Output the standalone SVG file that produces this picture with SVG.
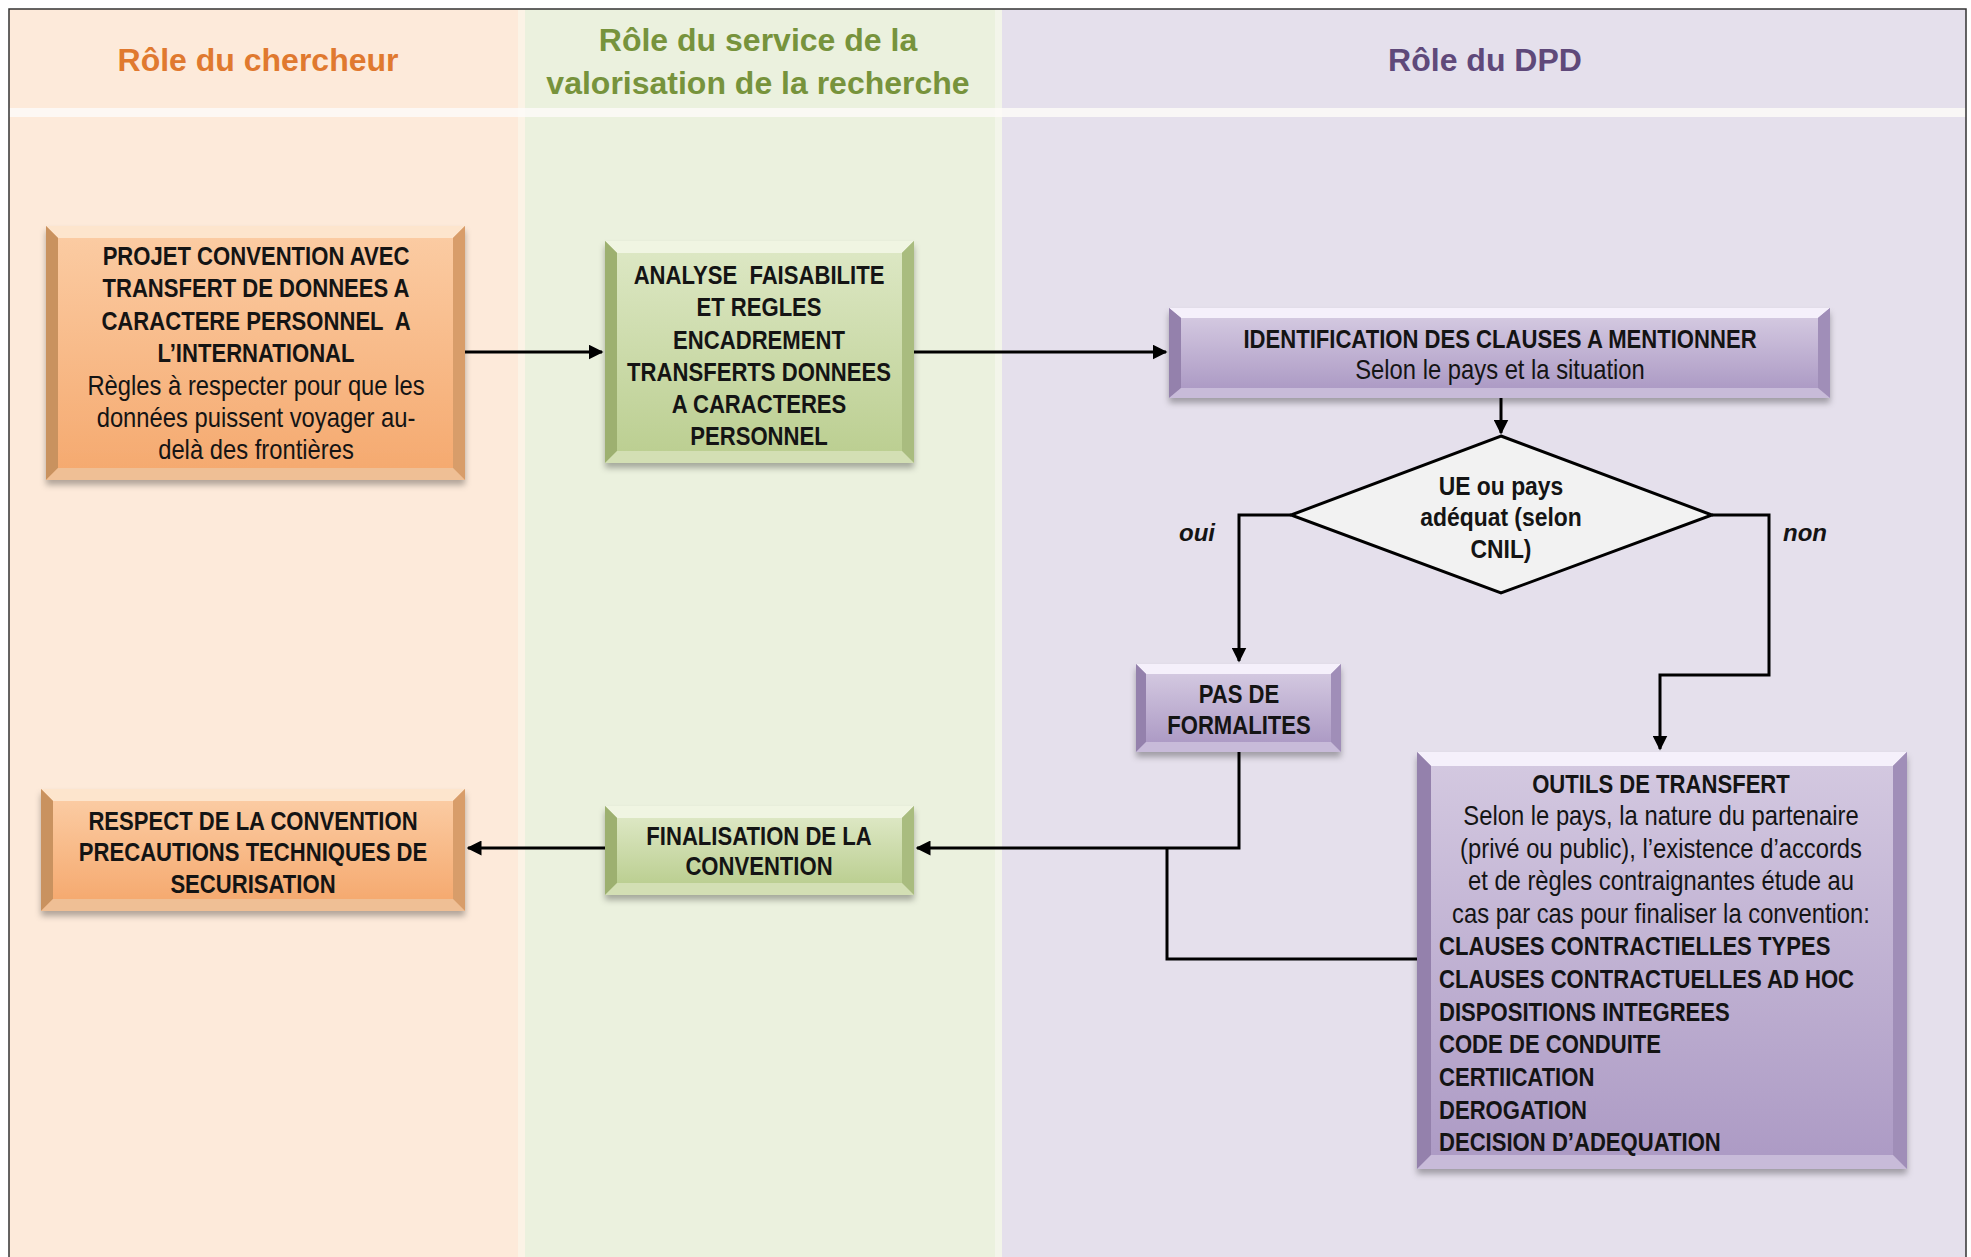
<svg xmlns="http://www.w3.org/2000/svg" width="1971" height="1257" viewBox="0 0 1971 1257">
<style>
text{font-family:"Liberation Sans",Arial,sans-serif;fill:#141414;}
.hd{font-size:32px;font-weight:bold;text-anchor:middle;}
.b{font-size:26px;font-weight:bold;text-anchor:middle;}
.r{font-size:28px;text-anchor:middle;}
.l{font-size:26px;font-weight:bold;text-anchor:start;}
.lbl{font-size:24px;font-weight:bold;font-style:italic;text-anchor:middle;}
.conn{fill:none;stroke:#000;stroke-width:3;}
</style>
<defs>
<marker id="ah" viewBox="0 0 10 10" refX="9" refY="5" markerWidth="5" markerHeight="5" orient="auto" markerUnits="strokeWidth">
<path d="M0,0 L10,5 L0,10 z" fill="#000"/>
</marker>
<filter id="sh" x="-10%" y="-10%" width="120%" height="130%">
<feDropShadow dx="0" dy="5" stdDeviation="3" flood-color="#000" flood-opacity="0.3"/>
</filter>
<linearGradient id="gO" x1="0" y1="0" x2="0" y2="1"><stop offset="0" stop-color="#FBCBA2"/><stop offset="1" stop-color="#F5AA70"/></linearGradient>
<linearGradient id="gG" x1="0" y1="0" x2="0" y2="1"><stop offset="0" stop-color="#DCE7C3"/><stop offset="1" stop-color="#BCCF92"/></linearGradient>
<linearGradient id="gP" x1="0" y1="0" x2="0" y2="1"><stop offset="0" stop-color="#D3C8E0"/><stop offset="1" stop-color="#AD9BC5"/></linearGradient>
</defs>

<!-- lanes -->
<g id="lanes">
<rect x="9" y="9" width="509" height="1248" fill="#FDEADA"/>
<rect x="518" y="9" width="7" height="1248" fill="#FBF3E6"/>
<rect x="525" y="9" width="470" height="1248" fill="#EBF1DE"/>
<rect x="995" y="9" width="7" height="1248" fill="#F3F5EA"/>
<rect x="1002" y="9" width="964" height="1248" fill="#E5E0EC"/>
<rect x="9" y="108" width="1957" height="9" fill="#FDFAF8" opacity="0.85"/>
<path d="M9,1257 V9 H1966 V1257" fill="none" stroke="#333" stroke-width="1.5"/>
<text class="hd" x="258" y="71" style="fill:#E0792F">Rôle du chercheur</text>
<text class="hd" x="758" y="51" style="fill:#77933C">Rôle du service de la</text>
<text class="hd" x="758" y="94" style="fill:#77933C">valorisation de la recherche</text>
<text class="hd" x="1485" y="71" style="fill:#5F497A">Rôle du DPD</text>
</g>

<!-- connectors -->
<g id="connectors">
<path class="conn" d="M465,352 H602" marker-end="url(#ah)"/>
<path class="conn" d="M914,352 H1166" marker-end="url(#ah)"/>
<path class="conn" d="M1501,398 V433" marker-end="url(#ah)"/>
<path class="conn" d="M1291,515 H1239 V661" marker-end="url(#ah)"/>
<path class="conn" d="M1712,515 H1769 V675 H1660 V749" marker-end="url(#ah)"/>
<path class="conn" d="M1239,752 V848 H917" marker-end="url(#ah)"/>
<path class="conn" d="M1417,959 H1167 V848"/>
<path class="conn" d="M605,848 H468" marker-end="url(#ah)"/>
<text class="lbl" x="1197" y="541">oui</text>
<text class="lbl" x="1805" y="541">non</text>
</g>

<!-- node 1 -->
<g id="n-projet">
<g filter="url(#sh)">
<rect x="46" y="226" width="419" height="254" fill="#E2A879"/>
<polygon points="46,226 465,226 453,238 58,238" fill="#FDE5CD"/>
<polygon points="46,226 58,238 58,468 46,480" fill="#C9925F"/>
<polygon points="465,226 465,480 453,468 453,238" fill="#D89D6B"/>
<polygon points="46,480 58,468 453,468 465,480" fill="#EFBF95"/>
<rect x="58" y="238" width="395" height="230" fill="url(#gO)"/>
</g>
<g transform="translate(256,0) scale(0.85,1)">
<text class="b" x="0" y="265">PROJET CONVENTION AVEC</text>
<text class="b" x="0" y="297">TRANSFERT DE DONNEES A</text>
<text class="b" x="0" y="330" xml:space="preserve">CARACTERE PERSONNEL  A</text>
<text class="b" x="0" y="362">L’INTERNATIONAL</text>
<text class="r" x="0" y="395">Règles à respecter pour que les</text>
<text class="r" x="0" y="427">données puissent voyager au-</text>
<text class="r" x="0" y="459">delà des frontières</text>
</g>
</g>

<!-- node 2 -->
<g id="n-analyse">
<g filter="url(#sh)">
<rect x="605" y="241" width="309" height="222" fill="#ABBF82"/>
<polygon points="605,241 914,241 902,253 617,253" fill="#F0F5E2"/>
<polygon points="605,241 617,253 617,451 605,463" fill="#9DB06F"/>
<polygon points="914,241 914,463 902,451 902,253" fill="#A9BC7F"/>
<polygon points="605,463 617,451 902,451 914,463" fill="#D3DFB4"/>
<rect x="617" y="253" width="285" height="198" fill="url(#gG)"/>
</g>
<g transform="translate(759,0) scale(0.85,1)">
<text class="b" x="0" y="284" xml:space="preserve">ANALYSE  FAISABILITE</text>
<text class="b" x="0" y="316">ET REGLES</text>
<text class="b" x="0" y="349">ENCADREMENT</text>
<text class="b" x="0" y="381">TRANSFERTS DONNEES</text>
<text class="b" x="0" y="413">A CARACTERES</text>
<text class="b" x="0" y="445">PERSONNEL</text>
</g>
</g>

<!-- node 3 -->
<g id="n-identification">
<g filter="url(#sh)">
<rect x="1169" y="308" width="661" height="90" fill="#A290BA"/>
<polygon points="1169,308 1830,308 1818,318 1181,318" fill="#F5F0FB"/>
<polygon points="1169,308 1181,318 1181,388 1169,398" fill="#9481AC"/>
<polygon points="1830,308 1830,398 1818,388 1818,318" fill="#A08EB8"/>
<polygon points="1169,398 1181,388 1818,388 1830,398" fill="#C8BBD9"/>
<rect x="1181" y="318" width="637" height="70" fill="url(#gP)"/>
</g>
<g transform="translate(1500,0) scale(0.85,1)">
<text class="b" x="0" y="348">IDENTIFICATION DES CLAUSES A MENTIONNER</text>
<text class="r" x="0" y="379">Selon le pays et la situation</text>
</g>
</g>

<!-- decision -->
<g id="n-decision">
<polygon points="1501,436 1712,515 1501,593 1291,515" fill="#F2F2F2" stroke="#000" stroke-width="3"/>
<g transform="translate(1501,0) scale(0.88,1)">
<text class="b" x="0" y="495">UE ou pays</text>
<text class="b" x="0" y="526">adéquat (selon</text>
<text class="b" x="0" y="558">CNIL)</text>
</g>
</g>

<!-- node PAS -->
<g id="n-pas">
<g filter="url(#sh)">
<rect x="1136" y="664" width="205" height="88" fill="#A290BA"/>
<polygon points="1136,664 1341,664 1331,674 1146,674" fill="#F5F0FB"/>
<polygon points="1136,664 1146,674 1146,742 1136,752" fill="#9481AC"/>
<polygon points="1341,664 1341,752 1331,742 1331,674" fill="#A08EB8"/>
<polygon points="1136,752 1146,742 1331,742 1341,752" fill="#C8BBD9"/>
<rect x="1146" y="674" width="185" height="68" fill="url(#gP)"/>
</g>
<g transform="translate(1239,0) scale(0.85,1)">
<text class="b" x="0" y="703">PAS DE</text>
<text class="b" x="0" y="734">FORMALITES</text>
</g>
</g>

<!-- node OUTILS -->
<g id="n-outils">
<g filter="url(#sh)">
<rect x="1417" y="752" width="490" height="417" fill="#A290BA"/>
<polygon points="1417,752 1907,752 1893,766 1431,766" fill="#F5F0FB"/>
<polygon points="1417,752 1431,766 1431,1155 1417,1169" fill="#9481AC"/>
<polygon points="1907,752 1907,1169 1893,1155 1893,766" fill="#A08EB8"/>
<polygon points="1417,1169 1431,1155 1893,1155 1907,1169" fill="#C8BBD9"/>
<rect x="1431" y="766" width="462" height="389" fill="url(#gP)"/>
</g>
<g transform="translate(1661,0) scale(0.85,1)">
<text class="b" x="0" y="793">OUTILS DE TRANSFERT</text>
<text class="r" x="0" y="825">Selon le pays, la nature du partenaire</text>
<text class="r" x="0" y="858">(privé ou public), l’existence d’accords</text>
<text class="r" x="0" y="890">et de règles contraignantes étude au</text>
<text class="r" x="0" y="923">cas par cas pour finaliser la convention:</text>
</g>
<g transform="translate(1439,0) scale(0.85,1)">
<text class="l" x="0" y="955">CLAUSES CONTRACTIELLES TYPES</text>
<text class="l" x="0" y="988">CLAUSES CONTRACTUELLES AD HOC</text>
<text class="l" x="0" y="1021">DISPOSITIONS INTEGREES</text>
<text class="l" x="0" y="1053">CODE DE CONDUITE</text>
<text class="l" x="0" y="1086">CERTIICATION</text>
<text class="l" x="0" y="1119">DEROGATION</text>
<text class="l" x="0" y="1151">DECISION D’ADEQUATION</text>
</g>
</g>

<!-- node FINALISATION -->
<g id="n-finalisation">
<g filter="url(#sh)">
<rect x="605" y="806" width="309" height="89" fill="#ABBF82"/>
<polygon points="605,806 914,806 902,818 617,818" fill="#F0F5E2"/>
<polygon points="605,806 617,818 617,883 605,895" fill="#9DB06F"/>
<polygon points="914,806 914,895 902,883 902,818" fill="#A9BC7F"/>
<polygon points="605,895 617,883 902,883 914,895" fill="#D3DFB4"/>
<rect x="617" y="818" width="285" height="65" fill="url(#gG)"/>
</g>
<g transform="translate(759,0) scale(0.85,1)">
<text class="b" x="0" y="845">FINALISATION DE LA</text>
<text class="b" x="0" y="875">CONVENTION</text>
</g>
</g>

<!-- node RESPECT -->
<g id="n-respect">
<g filter="url(#sh)">
<rect x="41" y="789" width="424" height="122" fill="#E2A879"/>
<polygon points="41,789 465,789 453,801 53,801" fill="#FDE5CD"/>
<polygon points="41,789 53,801 53,899 41,911" fill="#C9925F"/>
<polygon points="465,789 465,911 453,899 453,801" fill="#D89D6B"/>
<polygon points="41,911 53,899 453,899 465,911" fill="#EFBF95"/>
<rect x="53" y="801" width="400" height="98" fill="url(#gO)"/>
</g>
<g transform="translate(253,0) scale(0.85,1)">
<text class="b" x="0" y="830">RESPECT DE LA CONVENTION</text>
<text class="b" x="0" y="861">PRECAUTIONS TECHNIQUES DE</text>
<text class="b" x="0" y="893">SECURISATION</text>
</g>
</g>
</svg>
